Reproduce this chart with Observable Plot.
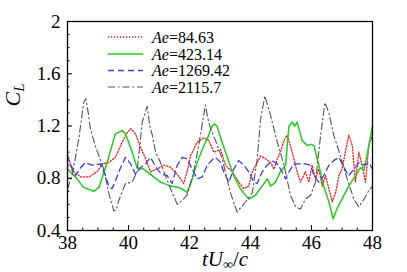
<!DOCTYPE html>
<html><head><meta charset="utf-8">
<script src="https://cdn.jsdelivr.net/npm/d3@7"></script>
<script src="https://cdn.jsdelivr.net/npm/@observablehq/plot@0.6"></script>
<style>body{margin:0;background:#fff}</style>
</head><body><div id="chart"></div>
<script>
// Series: [t U/c, C_L]
const ae84 = [[38.0,0.98],[38.15,0.86],[38.43,0.81],[38.7,0.81],[38.97,0.85],[39.14,0.91],[39.35,0.92],[39.57,0.96],[39.79,1.075],[39.96,1.15],[40.07,1.18],[40.23,1.14],[40.39,1.04],[40.56,0.95],[40.72,0.85],[40.94,0.87],[41.16,0.9],[41.38,0.885],[41.6,0.83],[41.81,0.76],[41.92,0.85],[42.03,0.97],[42.25,1.075],[42.47,1.11],[42.63,1.09],[42.8,1.0],[43.02,1.02],[43.18,0.9],[43.4,0.85],[43.62,0.77],[43.78,0.72],[43.94,0.74],[44.06,0.85],[44.22,0.92],[44.33,0.97],[44.49,0.95],[44.66,0.92],[44.77,0.87],[44.88,0.95],[44.98,1.0],[45.1,1.09],[45.2,1.13],[45.31,1.05],[45.42,0.95],[45.53,0.85],[45.64,0.77],[45.8,0.85],[45.91,0.77],[46.02,0.9],[46.13,0.795],[46.24,0.87],[46.35,0.74],[46.46,0.82],[46.57,0.72],[46.68,0.62],[46.79,0.69],[46.9,0.82],[47.0,0.87],[47.11,1.0],[47.22,1.13],[47.34,1.05],[47.44,0.77],[47.55,1.0],[47.66,0.9],[47.77,0.77],[47.88,1.05],[48.0,1.13]];
const ae423 = [[38.0,0.87],[38.26,0.81],[38.53,0.73],[38.86,0.70],[39.03,0.73],[39.3,0.92],[39.57,1.14],[39.79,1.165],[39.9,1.14],[40.12,1.0],[40.28,0.88],[40.5,0.87],[40.72,0.83],[41.05,0.77],[41.38,0.74],[41.65,0.73],[41.81,0.71],[41.92,0.69],[42.09,0.795],[42.25,0.92],[42.42,1.02],[42.63,1.13],[42.74,1.2],[42.82,1.215],[42.9,1.2],[43.07,1.075],[43.24,0.96],[43.45,0.82],[43.67,0.72],[43.94,0.64],[44.16,0.67],[44.38,0.74],[44.55,0.795],[44.66,0.74],[44.82,0.77],[44.98,0.85],[45.15,0.9],[45.26,1.2],[45.37,1.23],[45.45,1.2],[45.53,1.23],[45.69,1.09],[45.86,1.05],[46.0,1.06],[46.08,1.05],[46.24,0.9],[46.4,0.74],[46.57,0.62],[46.71,0.49],[46.84,0.57],[47.0,0.64],[47.22,0.74],[47.44,0.82],[47.6,0.88],[47.72,0.86],[47.88,1.05],[48.0,1.2]];
const ae1269 = [[38.0,0.97],[38.1,0.91],[38.26,0.82],[38.43,0.88],[38.59,0.92],[38.8,0.9],[39.08,0.91],[39.25,0.82],[39.35,0.74],[39.46,0.72],[39.57,0.78],[39.74,0.88],[39.9,0.96],[40.07,0.91],[40.23,0.83],[40.39,0.88],[40.56,0.91],[40.72,0.96],[40.94,0.87],[41.1,0.83],[41.27,0.82],[41.43,0.76],[41.6,0.9],[41.76,0.96],[41.92,0.95],[42.09,0.87],[42.25,0.795],[42.42,0.81],[42.58,0.9],[42.74,0.94],[42.85,0.96],[43.02,0.92],[43.12,0.85],[43.29,0.77],[43.45,0.87],[43.62,0.935],[43.78,0.9],[43.94,0.85],[44.11,0.77],[44.22,0.76],[44.38,0.85],[44.55,0.9],[44.71,0.935],[44.88,0.91],[45.04,0.85],[45.15,0.795],[45.26,0.85],[45.42,0.91],[45.64,0.91],[45.8,0.91],[45.97,0.9],[46.08,0.82],[46.24,0.77],[46.4,0.82],[46.57,0.9],[46.73,0.935],[46.9,0.96],[47.06,0.885],[47.22,0.82],[47.39,0.87],[47.55,0.92],[47.72,0.9],[47.88,0.92],[48.0,0.87]];
const ae2115 = [[38.0,0.72],[38.15,0.82],[38.37,1.1],[38.53,1.38],[38.6,1.41],[38.68,1.3],[38.75,1.18],[38.92,1.04],[39.05,0.96],[39.19,0.87],[39.35,0.69],[39.52,0.55],[39.6,0.56],[39.68,0.63],[39.9,0.76],[40.12,0.77],[40.28,0.85],[40.45,1.23],[40.61,1.35],[40.7,1.2],[40.78,1.13],[40.89,1.0],[41.05,0.92],[41.21,0.82],[41.43,0.69],[41.6,0.6],[41.76,0.63],[41.92,0.67],[42.14,0.85],[42.3,1.05],[42.52,1.36],[42.6,1.26],[42.69,1.18],[42.85,1.09],[43.07,0.95],[43.34,0.69],[43.56,0.54],[43.84,0.62],[44.06,0.69],[44.22,0.95],[44.33,1.25],[44.47,1.43],[44.66,1.28],[44.88,1.075],[45.1,0.9],[45.31,0.67],[45.48,0.58],[45.64,0.565],[45.8,0.64],[45.97,0.67],[46.13,0.77],[46.3,1.13],[46.44,1.38],[46.57,1.3],[46.73,1.13],[46.95,0.97],[47.17,0.795],[47.39,0.64],[47.55,0.58],[47.72,0.64],[47.88,0.705],[48.0,0.74]];

const aeLabels = ["84.63", "423.14", "1269.42", "2115.7"];
const xTicks = [38, 40, 42, 44, 46, 48];
const xMinor = d3.range(38, 48.01, 0.5);
const yTicks = [0.4, 0.8, 1.2, 1.6, 2];
const yMinor = d3.range(0.4, 2.001, 0.1);

const seriesStyle = [
  {data: ae84,   stroke: "#ee1c1c", strokeWidth: 1.3, dash: "1.2,1.8"},
  {data: ae423,  stroke: "#22cc22", strokeWidth: 1.5, dash: null},
  {data: ae1269, stroke: "#3a3af5", strokeWidth: 1.3, dash: "6,4"},
  {data: ae2115, stroke: "#555555", strokeWidth: 1.1, dash: "7,3,1.5,3"}
];

const font = "'Liberation Serif', 'DejaVu Serif', serif";

const chart = Plot.plot({
  width: 407, height: 272,
  marginLeft: 67, marginRight: 35, marginTop: 21, marginBottom: 42,
  style: {fontFamily: font, fontSize: "19px", background: "#fff", color: "#000"},
  x: {domain: [38, 48]},
  y: {domain: [0.4, 2]},
  marks: [
    ...seriesStyle.map(s => Plot.line(s.data, {x: d => d[0], y: d => d[1], stroke: s.stroke, strokeWidth: s.strokeWidth, strokeDasharray: s.dash})),
    Plot.axisX({ticks: xTicks, tickSize: 0, tickPadding: 5, tickFormat: d => String(d), label: null, fontSize: 19}),
    Plot.axisX({ticks: xTicks, tickSize: -5, text: null, label: null}),
    Plot.axisX({ticks: xMinor, tickSize: -2.5, text: null, label: null}),
    Plot.axisY({ticks: yTicks, tickSize: 0, tickPadding: 7, tickFormat: d => String(d), label: null, fontSize: 19}),
    Plot.axisY({ticks: yTicks, tickSize: -5, text: null, label: null}),
    Plot.axisY({ticks: yMinor, tickSize: -2.5, text: null, label: null}),
    Plot.frame({stroke: "#000", strokeWidth: 1.3})
  ]
});
document.getElementById("chart").appendChild(chart);

const svg = d3.select(chart);
// Legend
const leg = svg.append("g").attr("font-family", font).attr("font-size", 16).attr("text-anchor", "start");
const rowY = [37, 54, 70.5, 87];
seriesStyle.forEach((s, i) => {
  leg.append("line").attr("x1", 108).attr("x2", 143).attr("y1", rowY[i]).attr("y2", rowY[i])
    .attr("stroke", s.stroke).attr("stroke-width", s.strokeWidth).attr("stroke-dasharray", s.dash);
  const t = leg.append("text").attr("x", 152).attr("y", rowY[i] + 5.5);
  t.append("tspan").attr("font-style", "italic").text("Ae");
  t.append("tspan").text("=" + aeLabels[i]);
});
// X label: tU∞/c
const xl = svg.append("text").attr("x", 225).attr("y", 266).attr("text-anchor", "middle")
  .attr("font-family", font).attr("font-size", 21);
xl.append("tspan").attr("font-style", "italic").text("tU");
xl.append("tspan").attr("font-size", 14).attr("dy", 3).text("∞");
xl.append("tspan").attr("dy", -3).text("/");
xl.append("tspan").attr("font-style", "italic").text("c");
// Y label: C_L rotated
const yl = svg.append("text").attr("transform", "translate(20,95) rotate(-90)").attr("text-anchor", "middle")
  .attr("font-family", font).attr("font-size", 22);
yl.append("tspan").attr("font-style", "italic").text("C");
yl.append("tspan").attr("font-style", "italic").attr("font-size", 15).attr("dy", 4).text("L");
</script></body></html>
